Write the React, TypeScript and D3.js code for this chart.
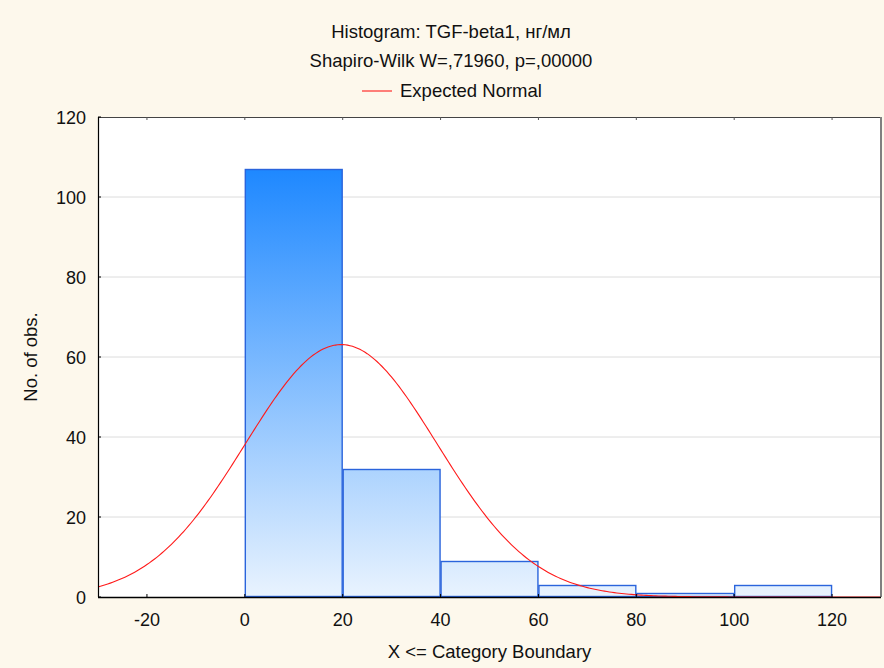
import React from "react";
import * as d3 from "d3";

// Histogram bins (lower boundaries) and observed counts
const binStarts = [0, 20, 40, 60, 80, 100];
const binWidth = 20;
const counts = [107, 32, 9, 3, 1, 3];
const xTicks = [-20, 0, 20, 40, 60, 80, 100, 120];
const yTicks = [0, 20, 40, 60, 80, 100, 120];

// Parameters of the fitted normal curve
const normalMean = 19.7;
const normalSd = 19.6;

const W = 884;
const H = 668;
const M = { left: 98, right: 881, top: 117, bottom: 597 };

export default function App() {
  const x = d3.scaleLinear().domain([-30, 130]).range([M.left, M.right]);
  const y = d3.scaleLinear().domain([0, 120]).range([M.bottom, M.top]);
  const total = d3.sum(counts);

  const curveX = d3.range(-30, 130.01, 0.5);
  const pdf = (v: number) =>
    (total * binWidth) / (normalSd * Math.sqrt(2 * Math.PI)) *
    Math.exp(-0.5 * ((v - normalMean) / normalSd) ** 2);
  const line = d3
    .line<number>()
    .x((d) => x(d))
    .y((d) => y(pdf(d)))(curveX) as string;

  const font = "'Liberation Sans', Arial, sans-serif";
  const maxCount = d3.max(counts) as number;
  const textSize = 18.5;
  const tickSize = 18;

  return (
    <svg
      width={W}
      height={H}
      style={{ position: "absolute", left: 0, top: 0, display: "block" }}
      fontFamily={font}
    >
      <defs>
        <linearGradient
          id="barFill"
          gradientUnits="userSpaceOnUse"
          x1={0}
          x2={0}
          y1={y(maxCount)}
          y2={y(0)}
        >
          <stop offset="0%" stopColor="#1e88ff" />
          <stop offset="100%" stopColor="#e9f3fe" />
        </linearGradient>
        <clipPath id="plotClip">
          <rect x={M.left} y={M.top} width={M.right - M.left} height={M.bottom - M.top} />
        </clipPath>
      </defs>
      <rect x={0} y={0} width={W} height={H} fill="#fdf8ec" />
      <rect x={M.left} y={M.top} width={M.right - M.left} height={M.bottom - M.top} fill="#ffffff" />

      {/* horizontal grid */}
      {yTicks.slice(1, -1).map((t) => (
        <line key={t} x1={M.left} x2={M.right} y1={y(t)} y2={y(t)} stroke="#dcdcdc" strokeWidth={1} />
      ))}

      {/* bars */}
      {binStarts.map((b, i) => (
        <rect
          key={b}
          x={x(b) + 0.5}
          y={y(counts[i]) + 0.5}
          width={x(b + binWidth) - x(b) - 1}
          height={y(0) - y(counts[i]) - 1}
          fill="url(#barFill)"
          stroke="#2a64dc"
          strokeWidth={1.4}
        />
      ))}

      {/* expected normal curve */}
      <path d={line} fill="none" stroke="#ff1a1a" strokeWidth={1.1} clipPath="url(#plotClip)" />

      {/* frame */}
      <line x1={M.left} x2={M.right} y1={M.top + 0.5} y2={M.top + 0.5} stroke="#444" strokeWidth={1.2} />
      <line x1={M.right} x2={M.right} y1={M.top} y2={M.bottom} stroke="#808080" strokeWidth={2} />
      <line x1={M.left + 0.5} x2={M.left + 0.5} y1={M.top} y2={M.bottom} stroke="#000" strokeWidth={1.2} />
      <line x1={M.left} x2={M.right} y1={M.bottom + 0.5} y2={M.bottom + 0.5} stroke="#000" strokeWidth={1.4} />

      {/* x ticks */}
      {xTicks.map((t) => (
        <g key={t}>
          <line x1={x(t)} x2={x(t)} y1={M.bottom} y2={M.bottom - 3} stroke="#000" />
          <line x1={x(t)} x2={x(t)} y1={M.top} y2={M.top + 3} stroke="#555" />
          <text x={x(t)} y={626} textAnchor="middle" fontSize={tickSize} fill="#111">
            {t}
          </text>
        </g>
      ))}

      {/* y ticks */}
      {yTicks.map((t) => (
        <g key={t}>
          <line x1={M.left} x2={M.left + 3} y1={y(t)} y2={y(t)} stroke="#000" />
          <text x={86} y={y(t) + 6.5} textAnchor="end" fontSize={tickSize} fill="#111">
            {t}
          </text>
        </g>
      ))}

      {/* titles */}
      <text x={451} y={38} textAnchor="middle" fontSize={textSize} fill="#111">
        Histogram: TGF-beta1, нг/мл
      </text>
      <text x={451} y={67} textAnchor="middle" fontSize={textSize} fill="#111">
        Shapiro-Wilk W=,71960, p=,00000
      </text>
      <line x1={362} x2={392} y1={91} y2={91} stroke="#ff1a1a" strokeWidth={1.1} />
      <text x={400} y={97} fontSize={textSize} fill="#111">
        Expected Normal
      </text>

      <text x={(M.left + M.right) / 2} y={658} textAnchor="middle" fontSize={textSize} fill="#111">
        {"X <= Category Boundary"}
      </text>
      <text
        transform={`translate(37, ${(M.top + M.bottom) / 2}) rotate(-90)`}
        textAnchor="middle"
        fontSize={textSize}
        fill="#111"
      >
        No. of obs.
      </text>
    </svg>
  );
}
